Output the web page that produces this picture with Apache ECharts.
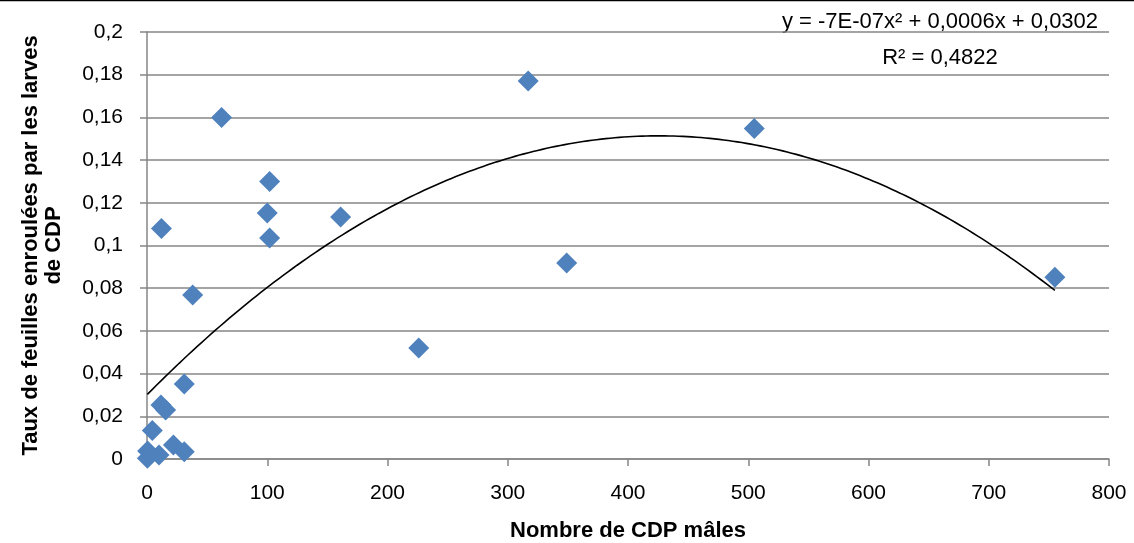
<!DOCTYPE html>
<html>
<head>
<meta charset="utf-8">
<script src="https://cdn.jsdelivr.net/npm/echarts@6/dist/echarts.min.js"></script>
<style>
html,body{margin:0;padding:0;background:#fff;}
#c{width:1134px;height:543px;}
</style>
</head>
<body>
<div id="c"></div>
<script>
// Data
const maleCounts = [317, 62, 505, 102, 100, 102, 161, 12, 38, 349, 755, 226, 31, 11.6, 15.5, 4.4, 0.5, 0.3, 10, 22, 31];
const rolledRates = [0.177, 0.160, 0.1548, 0.130, 0.1152, 0.1035, 0.1133, 0.108, 0.0768, 0.0918, 0.0851, 0.052, 0.0351, 0.0253, 0.023, 0.0133, 0.0037, 0.0003, 0.0019, 0.0066, 0.0034];
const xTicks = [0, 100, 200, 300, 400, 500, 600, 700, 800];
const yTicks = ['0', '0,02', '0,04', '0,06', '0,08', '0,1', '0,12', '0,14', '0,16', '0,18', '0,2'];
const equationText = 'y = -7E-07x² + 0,0006x + 0,0302';
const r2Text = 'R² = 0,4822';

const points = maleCounts.map((x, i) => [x, rolledRates[i]]);

// Quadratic least-squares trend line computed from the data
function polyFit2(xs, ys) {
  let S = [0,0,0,0,0], T = [0,0,0];
  for (let i = 0; i < xs.length; i++) {
    let p = 1;
    for (let k = 0; k < 5; k++) { S[k] += p; if (k < 3) T[k] += p * ys[i]; p *= xs[i]; }
  }
  const M = [[S[0],S[1],S[2],T[0]],[S[1],S[2],S[3],T[1]],[S[2],S[3],S[4],T[2]]];
  for (let c = 0; c < 3; c++) {
    for (let r = c + 1; r < 3; r++) {
      const f = M[r][c] / M[c][c];
      for (let k = c; k < 4; k++) M[r][k] -= f * M[c][k];
    }
  }
  const sol = [0,0,0];
  for (let r = 2; r >= 0; r--) {
    let s = M[r][3];
    for (let k = r + 1; k < 3; k++) s -= M[r][k] * sol[k];
    sol[r] = s / M[r][r];
  }
  return sol; // c0, c1, c2
}
const coef = polyFit2(maleCounts, rolledRates);
const xMin = Math.min(...maleCounts), xMax = Math.max(...maleCounts);
const trend = [];
for (let i = 0; i <= 200; i++) {
  const x = xMin + (xMax - xMin) * i / 200;
  trend.push([x, coef[0] + coef[1] * x + coef[2] * x * x]);
}

const FONT = '"Liberation Sans", Arial, sans-serif';
const chart = echarts.init(document.getElementById('c'));
chart.setOption({
  backgroundColor: '#ffffff',
  animation: false,
  grid: { left: 147, right: 25, top: 32, bottom: 84, containLabel: false, outerBoundsMode: 'none' },
  xAxis: {
    type: 'value', min: 0, max: 800, interval: 100,
    axisLine: { show: true, onZero: false, lineStyle: { color: '#868686', width: 1.5 } },
    axisTick: { show: true, length: 7, lineStyle: { color: '#868686', width: 1.5 } },
    splitLine: { show: false },
    axisLabel: { color: '#000', fontFamily: FONT, fontSize: 21, margin: 24,
      formatter: v => String(v) },
    name: 'Nombre de CDP mâles', nameLocation: 'middle', nameGap: 61,
    nameTextStyle: { color: '#000', fontFamily: FONT, fontSize: 22, fontWeight: 'bold' }
  },
  yAxis: {
    type: 'value', min: 0, max: 0.2, interval: 0.02,
    axisLine: { show: true, lineStyle: { color: '#868686', width: 1.5 } },
    axisTick: { show: true, length: 7, lineStyle: { color: '#868686', width: 1.5 } },
    splitLine: { show: true, lineStyle: { color: '#868686', width: 1.5 } },
    axisLabel: { color: '#000', fontFamily: FONT, fontSize: 21, margin: 24,
      formatter: v => yTicks[Math.round(v / 0.02)] },
    name: 'Taux de feuilles enroulées par les larves\nde CDP', nameLocation: 'middle', nameGap: 82,
    nameTextStyle: { color: '#000', fontFamily: FONT, fontSize: 22, fontWeight: 'bold', lineHeight: 23 }
  },
  series: [
    {
      type: 'line', data: trend, showSymbol: false, symbol: 'none', smooth: false,
      lineStyle: { color: '#000', width: 1.6 }, z: 2, silent: true
    },
    {
      type: 'scatter', data: points, symbol: 'diamond', symbolSize: 21,
      itemStyle: { color: '#4F81BD', opacity: 1 }, z: 3
    }
  ],
  graphic: [
    { type: 'line', shape: { x1: 0, y1: 0.5, x2: 1134, y2: 0.5 }, style: { stroke: '#000', lineWidth: 1.5 } },
    { type: 'text', x: 940, y: 22, style: { text: equationText, fill: '#000', font: '22px ' + FONT, align: 'center', verticalAlign: 'middle' } },
    { type: 'text', x: 940, y: 58, style: { text: r2Text, fill: '#000', font: '22px ' + FONT, align: 'center', verticalAlign: 'middle' } }
  ]
});
</script>
</body>
</html>
